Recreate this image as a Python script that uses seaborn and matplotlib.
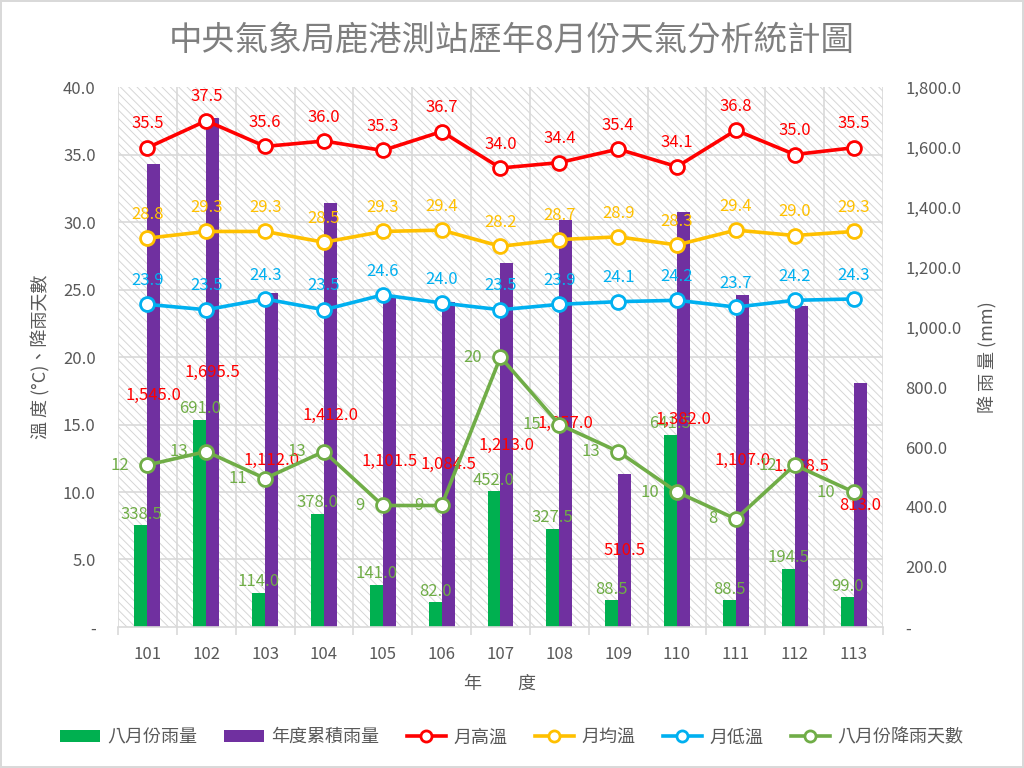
import matplotlib
matplotlib.use("Agg")
import matplotlib.pyplot as plt
from matplotlib.patches import Patch, Rectangle
from matplotlib.lines import Line2D
from matplotlib.ticker import FuncFormatter
import numpy as np
import pandas as pd
import seaborn as sns

plt.rcParams['font.family'] = ['Noto Sans CJK TC', 'DejaVu Sans']
plt.rcParams['hatch.linewidth'] = 0.7

years = [101, 102, 103, 104, 105, 106, 107, 108, 109, 110, 111, 112, 113]
temp_high = [35.5, 37.5, 35.6, 36.0, 35.3, 36.7, 34.0, 34.4, 35.4, 34.1, 36.8, 35.0, 35.5]
temp_avg = [28.8, 29.3, 29.3, 28.5, 29.3, 29.4, 28.2, 28.7, 28.9, 28.3, 29.4, 29.0, 29.3]
temp_low = [23.9, 23.5, 24.3, 23.5, 24.6, 24.0, 23.5, 23.9, 24.1, 24.2, 23.7, 24.2, 24.3]
rain_days = [12, 13, 11, 13, 9, 9, 20, 15, 13, 10, 8, 12, 10]
rain_aug = [338.5, 691.0, 114.0, 378.0, 141.0, 82.0, 452.0, 327.5, 88.5, 641.5, 88.5, 194.5, 99.0]
rain_year = [1545.0, 1695.5, 1112.0, 1412.0, 1101.5, 1084.5, 1213.0, 1357.0, 510.5, 1382.0, 1107.0, 1068.5, 813.0]

c_green_bar = "#00B050"
c_purple = "#7030A0"
c_red = "#FF0000"
c_yellow = "#FFC000"
c_blue = "#00B0F0"
c_green = "#70AD47"
c_text = "#595959"
c_grid = "#D9D9D9"

df_rain = pd.DataFrame({"年度": years, "八月份雨量": rain_aug, "年度累積雨量": rain_year})
df_long = df_rain.melt(id_vars="年度", var_name="類別", value_name="雨量")

fig = plt.figure(figsize=(10.24, 7.68), dpi=100)
fig.patch.set_edgecolor(c_grid)
fig.patch.set_linewidth(1.5)
ax = fig.add_axes([0.1152, 0.1836, 0.7471, 0.7031])
ax2 = ax.twinx()

# hatched plot area background
ax.add_patch(Rectangle((0, 0), 1, 1, transform=ax.transAxes, facecolor="white",
                       edgecolor="#D6D6D6", hatch="\\\\\\\\", lw=0, zorder=0))

sns.barplot(data=df_long, x="年度", y="雨量", hue="類別", palette=[c_green_bar, c_purple],
            width=0.44, gap=0, native_scale=True, saturation=1, linewidth=0,
            legend=False, ax=ax, zorder=2)

ax.bar_label(ax.containers[0], labels=[f"{v:,.1f}" for v in rain_aug], padding=2,
             color=c_green, fontsize=12)
ax.bar_label(ax.containers[1], labels=[f"{v:,.1f}" for v in rain_year], label_type="center",
             color=c_red, fontsize=12)

line_series = [
    (temp_high, c_red, "月高溫"),
    (temp_avg, c_yellow, "月均溫"),
    (temp_low, c_blue, "月低溫"),
    (rain_days, c_green, "八月份降雨天數"),
]
for vals, col, name in line_series:
    sns.lineplot(x=years, y=vals, ax=ax2, color=col, marker="o", markersize=10,
                 markerfacecolor="white", markeredgecolor=col, markeredgewidth=2,
                 linewidth=2.6, legend=False, zorder=3)

for vals, col, name in line_series[:3]:
    for x, v in zip(years, vals):
        ax2.annotate(f"{v:.1f}", (x, v), xytext=(0, 11), textcoords="offset points",
                     ha="center", va="bottom", color=col, fontsize=12)
for x, v in zip(years, rain_days):
    ax2.annotate(f"{v}", (x, v), xytext=(-13, 0), textcoords="offset points",
                 ha="right", va="center", color=c_green, fontsize=12)

# axes
ax.set_xlim(years[0] - 0.5, years[-1] + 0.5)
ax.set_ylim(0, 1800)
ax2.set_ylim(0, 40)
ax.yaxis.tick_right()
ax.yaxis.set_label_position("right")
ax2.yaxis.tick_left()
ax2.yaxis.set_label_position("left")

fmt = FuncFormatter(lambda v, p: "-" if v == 0 else f"{v:,.1f}")
ax.set_yticks(np.arange(0, 1801, 200))
ax.yaxis.set_major_formatter(fmt)
ax2.set_yticks(np.arange(0, 41, 5))
ax2.yaxis.set_major_formatter(fmt)

ax.set_xticks(years)
ax.set_xticklabels([str(y) for y in years])
ax.set_xticks(np.append(np.array(years) - 0.5, years[-1] + 0.5), minor=True)
ax.set_yticks(np.arange(0, 1801, 225), minor=True)
ax.grid(which="minor", color=c_grid, linewidth=1.2)
ax.grid(which="major", visible=False)
ax.set_axisbelow(True)

ax.tick_params(axis="x", which="major", length=0, pad=14, labelsize=12, labelcolor=c_text)
ax.tick_params(axis="x", which="minor", length=6, color=c_grid, width=1.2)
ax.tick_params(axis="y", which="both", length=0, pad=16, labelsize=12, labelcolor=c_text)
ax2.tick_params(axis="y", length=0, pad=16, labelsize=12, labelcolor=c_text)

for a in (ax, ax2):
    for s in a.spines.values():
        s.set_visible(False)
ax.spines["bottom"].set_visible(True)
ax.spines["bottom"].set_color(c_grid)
ax.spines["bottom"].set_linewidth(1.2)

ax.set_xlabel("年\u3000\u3000度", fontsize=13, color=c_text, labelpad=8)
ax.set_ylabel("降 雨 量 (mm)", fontsize=13, color=c_text, rotation=90, labelpad=12)
ax2.set_ylabel("溫 度 (°C)、降雨天數", fontsize=13, color=c_text, labelpad=9)

fig.suptitle("中央氣象局鹿港測站歷年8月份天氣分析統計圖", fontsize=24, color="#7F7F7F",
             y=0.97, va="top")

handles = [Patch(facecolor=c_green_bar), Patch(facecolor=c_purple)]
for vals, col, name in line_series:
    handles.append(Line2D([], [], color=col, marker="o", markersize=8, markerfacecolor="white",
                          markeredgecolor=col, markeredgewidth=2, linewidth=2.6))
names = ["八月份雨量", "年度累積雨量"] + [s[2] for s in line_series]
fig.legend(handles, names, loc="center", bbox_to_anchor=(0.5, 0.04), ncol=6, frameon=False,
           fontsize=13, handlelength=2.2, columnspacing=1.5, handletextpad=0.4,
           labelcolor=c_text)

fig.savefig("out.png", dpi=100)
